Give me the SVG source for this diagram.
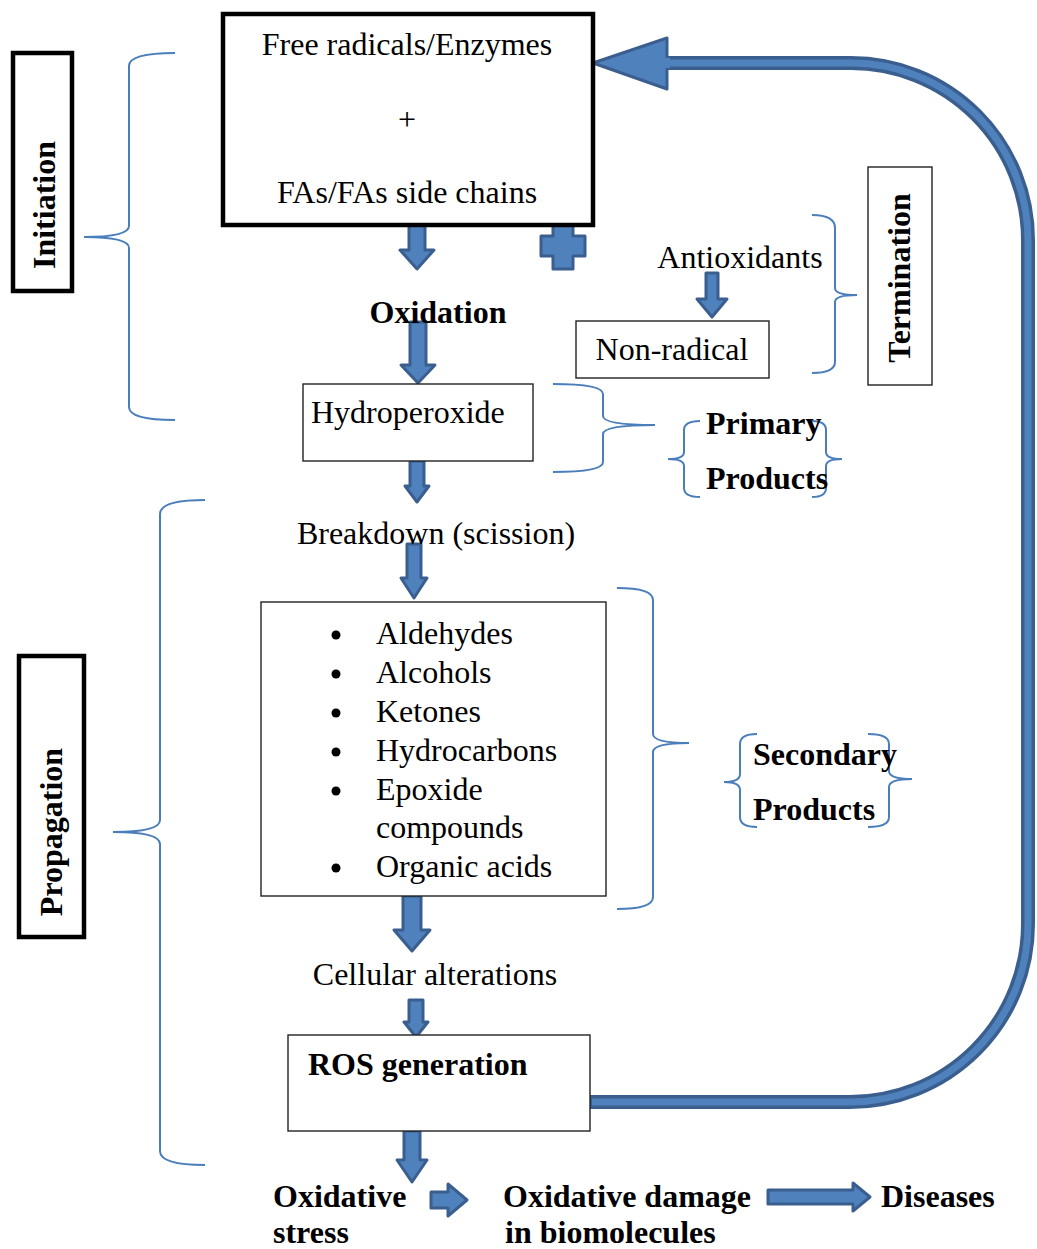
<svg xmlns="http://www.w3.org/2000/svg" width="1037" height="1249" viewBox="0 0 1037 1249">
<style>
.t{font-family:"Liberation Serif","Times New Roman",serif;font-size:32px;fill:#000}
.b{font-weight:bold}
.thick{fill:#fff;stroke:#000;stroke-width:4.5}
.thin{fill:#fff;stroke:#222;stroke-width:1.4}
.brace{fill:none;stroke:#4a7ebb;stroke-width:2}
.blk{fill:#4f81bd;stroke:#3a5f8f;stroke-width:3;stroke-linejoin:round}
</style>
<rect width="1037" height="1249" fill="#fff"/>

<g id="connectors">
  <!-- loop arrow -->
  <path d="M590 1102 H850 A178 178 0 0 0 1028 924 V240 A177 177 0 0 0 851 63 H664" fill="none" stroke="#3a5f8f" stroke-width="14"/>
  <path d="M592 1102 H850 A178 178 0 0 0 1028 924 V240 A177 177 0 0 0 851 63 H666" fill="none" stroke="#4f81bd" stroke-width="7"/>
  <polygon class="blk" points="593,63 667,38 667,89"/>
  <polygon points="664,58 670,58 670,68 664,68" fill="#4f81bd"/>
  <!-- down arrows -->
  <polygon class="blk" points="409,224 425,224 425,250 434,250 417,269 400,250 409,250"/>
  <polygon class="blk" points="410,322 426,322 426,365 435,365 418,383 401,365 410,365"/>
  <polygon class="blk" points="410,461 424,461 424,486 429,486 417,502 405,486 410,486"/>
  <polygon class="blk" points="407,544 421,544 421,578 427,578 414,598 401,578 407,578"/>
  <polygon class="blk" points="403,896 421,896 421,930 430,930 412,951 394,930 403,930"/>
  <polygon class="blk" points="409,1000 423,1000 423,1022 428,1022 416,1037 404,1022 409,1022"/>
  <polygon class="blk" points="404,1131 420,1131 420,1160 427,1160 412,1182 397,1160 404,1160"/>
  <polygon class="blk" points="706,273 718,273 718,299 727,299 712,317 697,299 706,299"/>
  <!-- right arrows -->
  <polygon class="blk" points="431,1192 448,1192 448,1184 467,1200 448,1216 448,1208 431,1208"/>
  <polygon class="blk" points="768,1190 853,1190 853,1183 870,1197 853,1211 853,1204 768,1204"/>
  <!-- plus -->
  <path class="blk" d="M553,223 H573 V236 H585 V256 H573 V269 H553 V256 H541 V236 H553 Z"/>
</g>

<g id="initiation-label">
  <rect class="thick" x="13" y="53" width="59" height="238"/>
  <text class="t b" transform="translate(55,205) rotate(-90)" text-anchor="middle">Initiation</text>
</g>
<g id="initiation-brace">
  <path class="brace" d="M175 53 Q129 53 129 66 V226 Q129 237 84 237 Q129 237 129 248 V407 Q129 420 175 420"/>
</g>

<g id="start">
  <rect class="thick" x="223" y="14" width="370" height="211"/>
  <text class="t" x="407" y="55" text-anchor="middle">Free radicals/Enzymes</text>
  <text class="t" x="407" y="130" text-anchor="middle">+</text>
  <text class="t" x="407" y="203" text-anchor="middle">FAs/FAs side chains</text>
</g>

<g id="oxidation">
  <text class="t b" x="438" y="323" text-anchor="middle">Oxidation</text>
</g>

<g id="antioxidants">
  <text class="t" x="740" y="268" text-anchor="middle">Antioxidants</text>
</g>
<g id="non-radical">
  <rect class="thin" x="576" y="321" width="193" height="57"/>
  <text class="t" x="672" y="360" text-anchor="middle">Non-radical</text>
</g>
<g id="termination-brace">
  <path class="brace" d="M812 215 Q835 215 835 228 V288 Q835 295 857 295 Q835 295 835 302 V362 Q835 373 812 373"/>
</g>
<g id="termination-label">
  <rect class="thin" x="868" y="167" width="64" height="218" stroke-width="2"/>
  <text class="t b" transform="translate(910,278) rotate(-90)" text-anchor="middle">Termination</text>
</g>

<g id="hydroperoxide">
  <rect class="thin" x="303" y="384" width="230" height="77"/>
  <text class="t" x="311" y="423">Hydroperoxide</text>
</g>
<g id="primary-brace">
  <path class="brace" d="M553 384 Q603 384 603 394 V416 Q603 425 655 425 Q603 425 603 434 V462 Q603 472 553 472"/>
</g>
<g id="primary-products">
  <path class="brace" d="M700 421 Q684 421 684 430 V452 Q684 459 668 459 Q684 459 684 466 V488 Q684 497 700 497"/>
  <path class="brace" d="M812 421 Q826 421 826 430 V452 Q826 459 842 459 Q826 459 826 466 V488 Q826 497 812 497"/>
  <text class="t b" x="706" y="434">Primary</text>
  <text class="t b" x="706" y="489">Products</text>
</g>

<g id="breakdown">
  <text class="t" x="436" y="544" text-anchor="middle">Breakdown (scission)</text>
</g>

<g id="secondary-list">
  <rect class="thin" x="261" y="602" width="345" height="294"/>
  <g fill="#000">
    <circle cx="336" cy="635" r="4.5"/>
    <circle cx="336" cy="674" r="4.5"/>
    <circle cx="336" cy="713" r="4.5"/>
    <circle cx="336" cy="752" r="4.5"/>
    <circle cx="336" cy="791" r="4.5"/>
    <circle cx="336" cy="868" r="4.5"/>
  </g>
  <text class="t" x="376" y="644">Aldehydes</text>
  <text class="t" x="376" y="683">Alcohols</text>
  <text class="t" x="376" y="722">Ketones</text>
  <text class="t" x="376" y="761">Hydrocarbons</text>
  <text class="t" x="376" y="800">Epoxide</text>
  <text class="t" x="376" y="838">compounds</text>
  <text class="t" x="376" y="877">Organic acids</text>
</g>
<g id="secondary-brace">
  <path class="brace" d="M617 588 Q653 588 653 600 V734 Q653 743 689 743 Q653 743 653 752 V897 Q653 909 617 909"/>
</g>
<g id="secondary-products">
  <path class="brace" d="M757 734 Q740 734 740 744 V774 Q740 782 724 782 Q740 782 740 790 V817 Q740 827 757 827"/>
  <path class="brace" d="M868 734 Q889 734 889 744 V771 Q889 779 912 779 Q889 779 889 787 V817 Q889 827 868 827"/>
  <text class="t b" x="753" y="765">Secondary</text>
  <text class="t b" x="753" y="820">Products</text>
</g>

<g id="propagation-label">
  <rect class="thick" x="19" y="656" width="65" height="281"/>
  <text class="t b" transform="translate(62,832) rotate(-90)" text-anchor="middle">Propagation</text>
</g>
<g id="propagation-brace">
  <path class="brace" d="M205 500 Q160 500 160 514 V820 Q160 832 113 832 Q160 832 160 844 V1151 Q160 1165 205 1165"/>
</g>

<g id="cellular">
  <text class="t" x="435" y="985" text-anchor="middle">Cellular alterations</text>
</g>

<g id="ros">
  <rect class="thin" x="288" y="1035" width="302" height="96"/>
  <text class="t b" x="308" y="1075">ROS generation</text>
</g>

<g id="oxidative-stress">
  <text class="t b" x="273" y="1207">Oxidative</text>
  <text class="t b" x="273" y="1243">stress</text>
</g>
<g id="oxidative-damage">
  <text class="t b" x="503" y="1207">Oxidative damage</text>
  <text class="t b" x="505" y="1243">in biomolecules</text>
</g>
<g id="diseases">
  <text class="t b" x="881" y="1207">Diseases</text>
</g>
</svg>
